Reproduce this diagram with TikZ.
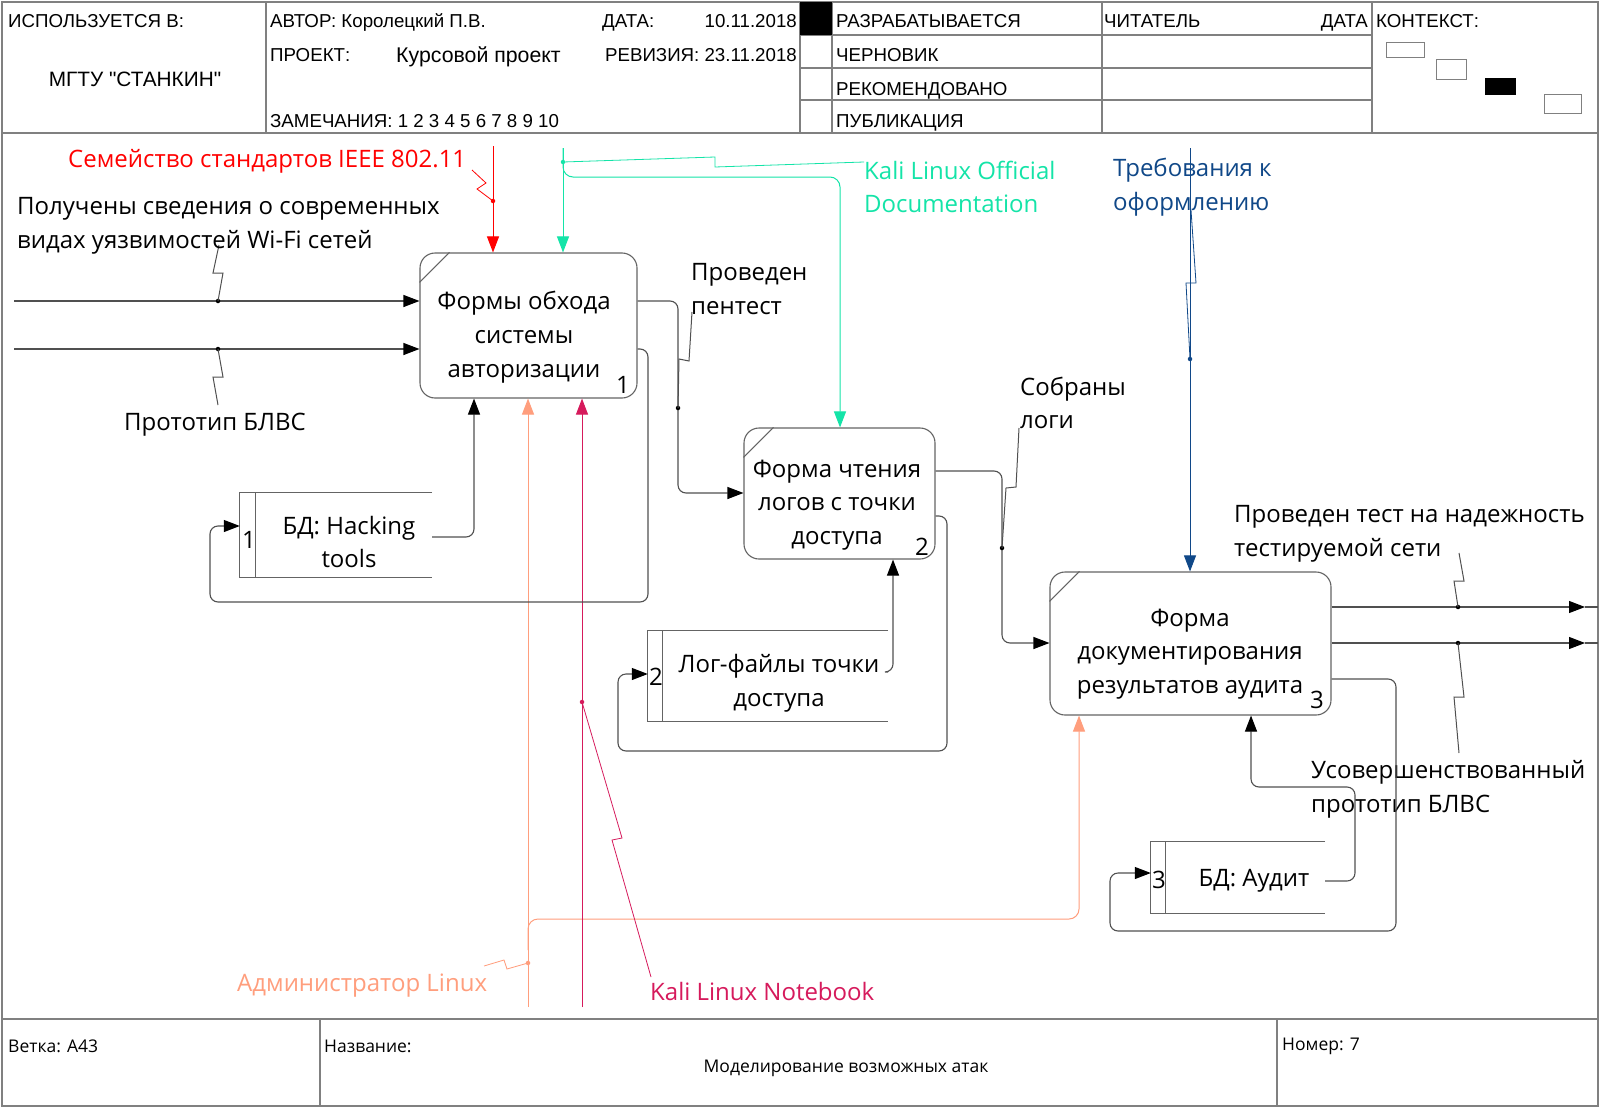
\documentclass[tikz,border=0pt]{standalone}
\usepackage{fontspec}
\setmainfont{Open Sans}
\newfontfamily\headfont[Ligatures=TeXOff]{Liberation Sans}
\usetikzlibrary{arrows.meta}

\definecolor{rulegray}{RGB}{128,128,128}
\definecolor{edgegray}{RGB}{100,100,100}
\definecolor{flowgray}{RGB}{80,80,80}
\definecolor{stdred}{RGB}{255,0,0}
\definecolor{docmint}{RGB}{20,228,168}
\definecolor{reqblue}{RGB}{16,72,136}
\definecolor{adminsalmon}{RGB}{255,158,125}
\definecolor{notecrimson}{RGB}{214,26,92}

\newcommand\diagsize{\fontsize{24}{33.7}\selectfont}
\newcommand\headsize{\headfont\fontsize{18.7}{22}\selectfont}
\newcommand\footsize{\fontsize{17.5}{22}\selectfont}

\begin{document}
\begin{tikzpicture}[x=1pt,y=-1pt,
  frameline/.style={draw=rulegray,line width=1.3pt},
  actbox/.style={draw=edgegray,line width=1.1pt,rounded corners=15pt,inner sep=0pt},
  storebox/.style={inner sep=0pt},
  outline/.style={draw=edgegray,line width=1.1pt},
  txt/.style={inner sep=0pt,font=\diagsize,align=center},
  ltxt/.style={inner sep=0pt,font=\diagsize,align=left,anchor=west},
  hdtxt/.style={inner sep=0pt,font=\headsize,anchor=base west},
  fttxt/.style={inner sep=0pt,font=\footsize,anchor=west},
  flow/.style={draw=flowgray,line width=1.1pt,rounded corners=8pt},
  arr/.style={-{Triangle[length=16pt,width=12pt]}},
  blackarr/.style={-{Triangle[length=16pt,width=12pt,color=black]}},
  leader/.style={draw=flowgray,line width=1pt},
  joint/.style={circle,fill=#1,inner sep=0pt,minimum size=4.5pt},
  joint/.default=black,
  stdline/.style={draw=stdred,line width=1pt},
  docline/.style={draw=docmint,line width=1pt},
  reqline/.style={draw=reqblue,line width=0.9pt},
  adminline/.style={draw=adminsalmon,line width=1pt},
  noteline/.style={draw=notecrimson,line width=1pt},
]
\fill[white] (0,0) rectangle (1600,1108);
\useasboundingbox (0,0) rectangle (1600,1108);

% ---------- outer frame, header and footer ----------
\draw[frameline] (2,2) rectangle (1598,1106);
\draw[frameline] (2,133) -- (1598,133);
\foreach \xx in {266,800,832,1102,1372} \draw[frameline] (\xx,2) -- (\xx,133);
\foreach \yy in {35,68,100} \draw[frameline] (800,\yy) -- (1372,\yy);
\fill[black] (800,2) rectangle (832,35);
\draw[frameline] (2,1019) -- (1598,1019);
\draw[frameline] (320,1019) -- (320,1106);
\draw[frameline] (1277,1019) -- (1277,1106);

% context thumbnails
\draw[rulegray,line width=1pt] (1386,43) rectangle (1424,58);
\draw[rulegray,line width=1pt] (1436,60) rectangle (1466,79);
\fill[black] (1485,78) rectangle (1516,95);
\draw[rulegray,line width=1pt] (1544,94) rectangle (1581,113);

\node[hdtxt] (usedin) at (8,27.5) {ИСПОЛЬЗУЕТСЯ В:};
\node[hdtxt,anchor=base,font=\headfont\fontsize{20.8}{24}\selectfont] (org) at (135,86) {МГТУ "СТАНКИН"};
\node[hdtxt] (author) at (270,27.5) {АВТОР: Королецкий П.В.};
\node[hdtxt] (datekey) at (602,27.5) {ДАТА:};
\node[hdtxt,anchor=base east] (dateval) at (797,27.5) {10.11.2018};
\node[hdtxt] (project) at (270,62) {ПРОЕКТ:};
\node[hdtxt,font=\headfont\fontsize{21.3}{24}\selectfont] (projval) at (396,63) {Курсовой проект};
\node[hdtxt,anchor=base east] (revision) at (797,62) {РЕВИЗИЯ: 23.11.2018};
\node[hdtxt] (notes) at (270,127.5) {ЗАМЕЧАНИЯ: 1 2 3 4 5 6 7 8 9 10};
\node[hdtxt] (st1) at (836,27.5) {РАЗРАБАТЫВАЕТСЯ};
\node[hdtxt] (st2) at (836,62) {ЧЕРНОВИК};
\node[hdtxt] (st3) at (836,95) {РЕКОМЕНДОВАНО};
\node[hdtxt] (st4) at (836,127.5) {ПУБЛИКАЦИЯ};
\node[hdtxt] (reader) at (1104,27.5) {ЧИТАТЕЛЬ};
\node[hdtxt,anchor=base east] (readdate) at (1368,27.5) {ДАТА};
\node[hdtxt] (context) at (1376,27.5) {КОНТЕКСТ:};

\node[fttxt] (branch) at (8,1046) {Ветка: А43};
\node[fttxt] (titlekey) at (324,1046) {Название:};
\node[fttxt,anchor=center] (titleval) at (846,1068) {Моделирование возможных атак};
\node[fttxt] (number) at (1282,1046) {Номер: 7};

% ---------- activities ----------
\node[actbox,minimum width=217pt,minimum height=145pt] (b1) at (528.5,325.5) {};
\node[actbox,minimum width=191pt,minimum height=131pt] (b2) at (839.5,493.5) {};
\node[actbox,minimum width=281pt,minimum height=143pt] (b3) at (1190.5,643.5) {};
\foreach \b in {b1,b2,b3}
  \draw[outline] ([yshift=-30pt]\b.north west) -- ([xshift=30pt]\b.north west);

\node[txt] (b1t) at (524,337) {Формы обхода\\системы\\авторизации};
\node[txt] (b2t) at (837,505) {Форма чтения\\логов с точки\\доступа};
\node[txt] (b3t) at (1190,654) {Форма\\документирования\\результатов аудита};
\node[txt] (b1n) at (623,385) {1};
\node[txt] (b2n) at (922,547) {2};
\node[txt] (b3n) at (1317,700) {3};

% ---------- data stores ----------
\node[storebox,minimum width=192pt,minimum height=84pt] (s1) at (336,535) {};
\node[storebox,minimum width=240pt,minimum height=90pt] (s2) at (768,676) {};
\node[storebox,minimum width=174pt,minimum height=71pt] (s3) at (1238,877.5) {};
\foreach \s/\w in {s1/16,s2/15,s3/15} {
  \draw[outline] (\s.north east) -- (\s.north west) -- (\s.south west) -- (\s.south east);
  \draw[outline] ([xshift=\w pt]\s.north west) -- ([xshift=\w pt]\s.south west);
}
\node[txt] (s1t) at (349,542) {БД: Hacking\\tools};
\node[txt] (s2t) at (779,683) {Лог-файлы точки\\доступа};
\node[txt] (s3t) at (1254,881) {БД: Аудит};
\node[txt] (s1n) at (249,540) {1};
\node[txt] (s2n) at (656,677) {2};
\node[txt] (s3n) at (1159,880) {3};

% ---------- inputs ----------
\coordinate (in1) at (14,301);
\coordinate (in2) at (14,349);
\draw[flow,blackarr] (in1) -- (b1.west |- in1);
\draw[flow,blackarr] (in2) -- (b1.west |- in2);
\node[joint] (j1) at (218,301) {};
\node[joint] (j2) at (218,349) {};
\draw[leader] (j1.center) -- (223,273) -- (213,273) -- (219,245);
\draw[leader] (j2.center) -- (223,377) -- (213,377) -- (218,405);
\node[ltxt] (in1t) at (17,226) {Получены сведения о современных\\видах уязвимостей Wi-Fi сетей};
\node[txt] (in2t) at (215,425) {Прототип БЛВС};

% ---------- controls ----------
\coordinate (stdsrc) at (493,146);
\draw[stdline,arr] (stdsrc) -- (b1.north -| stdsrc);
\node[joint=stdred] (jstd) at (493,201) {};
\draw[stdline,line width=0.8pt] (jstd.center) -- (477,189) -- (486,183) -- (472,170);
\node[ltxt,text=stdred] (stdt) at (68,161) {Семейство стандартов IEEE 802.11};

\coordinate (docsrc) at (563,148);
\draw[docline,arr] (docsrc) -- (b1.north -| docsrc);
\draw[docline,arr,rounded corners=10pt] (docsrc) -- (563,177) -- (840,177) -- (840,0 |- b2.north);
\node[joint=docmint] (jdoc) at (563,162) {};
\draw[docline,line width=0.8pt] (jdoc.center) -- (715,157) -- (715,167) -- (864,162);
\node[ltxt,text=docmint] (doct) at (864,187) {Kali Linux Official\\Documentation};

\node[ltxt,text=reqblue] (reqt) at (1113,187) {Требования к\\оформлению};
\coordinate (reqsrc) at (1190,148);
\draw[reqline,arr] (reqsrc) -- (b3.north -| reqsrc);
\node[joint=reqblue] (jreq) at (1190,359) {};
\draw[reqline,line width=0.8pt] (jreq.center) -- (1186,283) -- (1196,283) -- (1191,210);

% ---------- mechanisms ----------
\draw[flow,blackarr] (s1.east |- 0,537) -- (474,537) -- (474,0 |- b1.south);
\draw[flow,blackarr] (s2.east |- 0,672) -- (893,672) -- (893,0 |- b2.south);
\draw[flow,blackarr] (s3.east |- 0,881) -- (1355,881) -- (1355,787) -- (1251,787) -- (1251,0 |- b3.south);

\coordinate (adminfoot) at (528,1007);
\coordinate (adminsplit) at (528,950);
\draw[adminline,arr] (adminfoot) -- (b1.south -| adminfoot);
\draw[adminline,arr,rounded corners=10pt] (adminsplit) -- (528,919) -- (1079,919) -- (1079,0 |- b3.south);
\node[joint=adminsalmon] (jadm) at (528,963) {};
\draw[adminline,line width=0.8pt] (jadm.center) -- (507,969) -- (504,960) -- (484,966);
\node[ltxt,text=adminsalmon] (admt) at (237,986) {Администратор Linux};

\coordinate (notefoot) at (582,1007);
\draw[noteline,arr] (notefoot) -- (b1.south -| notefoot);
\node[joint=notecrimson] (jnote) at (582,702) {};
\draw[noteline,line width=0.8pt] (jnote.center) -- (622,838) -- (612,840) -- (651,977);
\node[ltxt,text=notecrimson] (notet) at (650,991) {Kali Linux Notebook};

% ---------- outputs and feedback ----------
\draw[flow,blackarr] (b1.east |- 0,301) -- (678,301) -- (678,493) -- (b2.west |- 0,493);
\draw[flow,blackarr] (b1.east |- 0,349) -- (648,349) -- (648,602) -- (210,602) -- (210,526) -- (s1.west |- 0,526);
\node[joint] (jo1) at (678,408) {};
\draw[leader] (jo1.center) -- (679,359) -- (689,361) -- (692,312);
\node[ltxt] (o1t) at (691,289) {Проведен\\пентест};

\draw[flow,blackarr] (b2.east |- 0,471) -- (1002,471) -- (1002,643) -- (b3.west |- 0,643);
\draw[flow,blackarr] (b2.east |- 0,516) -- (947,516) -- (947,751) -- (618,751) -- (618,674) -- (s2.west |- 0,674);
\node[joint] (jo2) at (1002,548) {};
\draw[leader] (jo2.center) -- (1006,488) -- (1016,487) -- (1019,428);
\node[ltxt] (o2t) at (1020,403) {Собраны\\логи};

\coordinate (out1) at (1585,607);
\coordinate (out2) at (1585,643);
\coordinate (rim1) at (1598,607);
\coordinate (rim2) at (1598,643);
\draw[flow,blackarr] (b3.east |- out1) -- (out1);
\draw[flow,blackarr] (b3.east |- out2) -- (out2);
\draw[flow] (out1) -- (rim1);
\draw[flow] (out2) -- (rim2);
\node[joint] (jo3) at (1458,607) {};
\node[joint] (jo4) at (1458,643) {};
\draw[leader] (jo3.center) -- (1454,581) -- (1464,581) -- (1459,553);
\draw[leader] (jo4.center) -- (1464,697) -- (1454,697) -- (1459,753);
\node[ltxt] (o3t) at (1234,534) {Проведен тест на надежность\\тестируемой сети};
\node[ltxt] (o4t) at (1311,789) {Усовершенствованный\\прототип БЛВС};
\draw[flow,blackarr] (b3.east |- 0,679) -- (1396,679) -- (1396,931) -- (1110,931) -- (1110,873) -- (s3.west |- 0,873);
\end{tikzpicture}
\end{document}
